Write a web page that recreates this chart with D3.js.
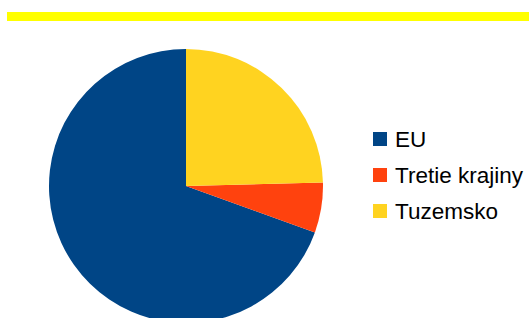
<!DOCTYPE html>
<html>
<head>
<meta charset="utf-8">
<script src="https://cdn.jsdelivr.net/npm/d3@7"></script>
<style>
  html, body { margin: 0; padding: 0; background: #fff; }
  svg { display: block; }
</style>
</head>
<body>
<div id="chart"></div>
<script>
// chart data (legend order)
var categories = ["EU", "Tretie krajiny", "Tuzemsko"];
var shares = [69.5, 5.9, 24.6];
var colours = ["#004586", "#ff420e", "#ffd320"];

var w = 529, h = 318;
var cx = 186, cy = 186, radius = 137;

var svg = d3.select("#chart")
    .append("svg")
    .attr("width", w)
    .attr("height", h);

// yellow header bar
svg.append("rect")
    .attr("x", 7)
    .attr("y", 12)
    .attr("width", w - 7)
    .attr("height", 9)
    .attr("fill", "#ffff00");

var colour = d3.scaleOrdinal().domain(categories).range(colours);

// slices run counter-clockwise from 12 o'clock
var pie = d3.pie()
    .sort(null)
    .startAngle(0)
    .endAngle(-2 * Math.PI)
    .value(function (d) { return d.v; });

var arc = d3.arc().innerRadius(0).outerRadius(radius);

var dataset = categories.map(function (c, i) { return {k: c, v: shares[i]}; });

svg.append("g")
    .attr("transform", "translate(" + cx + "," + cy + ")")
    .selectAll("path")
    .data(pie(dataset))
    .enter().append("path")
    .attr("d", arc)
    .attr("fill", function (d) { return colour(d.data.k); });

// legend
var ly = d3.scalePoint().domain(categories).range([139, 211]);

var legend = svg.selectAll(".legend")
    .data(categories)
    .enter().append("g")
    .attr("class", "legend")
    .attr("transform", function (d) { return "translate(373," + ly(d) + ")"; });

legend.append("rect")
    .attr("x", 0)
    .attr("y", -7)
    .attr("width", 14)
    .attr("height", 14)
    .attr("fill", function (d) { return colour(d); });

legend.append("text")
    .attr("x", 22)
    .attr("y", 0)
    .attr("dy", "0.36em")
    .style("font-family", "'Liberation Sans', Arial, sans-serif")
    .style("font-size", "22.5px")
    .attr("fill", "#000")
    .text(function (d) { return d; });
</script>
</body>
</html>
